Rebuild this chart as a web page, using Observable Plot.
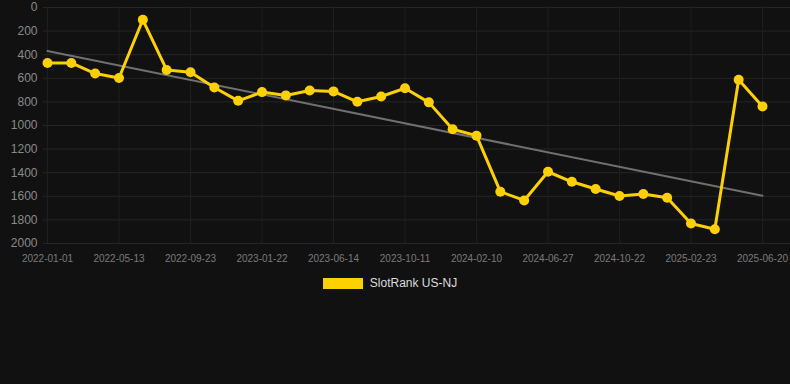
<!DOCTYPE html>
<html>
<head>
<meta charset="utf-8">
<script src="https://cdn.jsdelivr.net/npm/d3@7"></script>
<script src="https://cdn.jsdelivr.net/npm/@observablehq/plot@0.6"></script>
<style>
  html, body { margin: 0; padding: 0; background: #111111; }
  body { width: 790px; height: 384px; overflow: hidden; font-family: "Liberation Sans", Arial, sans-serif; }
  #legend { display: flex; align-items: center; justify-content: center; height: 28px; margin-top: -1px; padding-right: 10px; color: #dddddd; font-size: 12px; }
  #legend .sw { width: 40px; height: 11px; background: #FFD000; margin-right: 7px; }
</style>
</head>
<body>
<div id="chart"></div>
<div id="legend"><span class="sw"></span><span>SlotRank US-NJ</span></div>
<script>
const dates = [
  "2022-01-01","2022-02-14","2022-03-29","2022-05-13","2022-06-26","2022-08-09",
  "2022-09-23","2022-11-02","2022-12-12","2023-01-22","2023-03-06","2023-04-29",
  "2023-06-14","2023-07-23","2023-09-01","2023-10-11","2023-11-20","2023-12-31",
  "2024-02-10","2024-03-26","2024-05-12","2024-06-27","2024-08-04","2024-09-13",
  "2024-10-22","2024-12-02","2025-01-12","2025-02-23","2025-04-04","2025-05-12",
  "2025-06-20"
];
const rank = [
  470, 470, 560, 597, 104, 529, 549, 678, 791, 717, 745, 703, 711, 799, 754, 684,
  804, 1032, 1086, 1561, 1635, 1392, 1477, 1538, 1597, 1581, 1612, 1831, 1879, 613, 838
];
const trendEnds = [369, 1595];
const yTicks = [0, 200, 400, 600, 800, 1000, 1200, 1400, 1600, 1800, 2000];
const xTickLabels = ["2022-01-01","2022-05-13","2022-09-23","2023-01-22","2023-06-14","2023-10-11","2024-02-10","2024-06-27","2024-10-22","2025-02-23","2025-06-20"];

const data = dates.map((d, i) => ({i, date: d, v: rank[i]}));
const trend = [{i: 0, v: trendEnds[0]}, {i: dates.length - 1, v: trendEnds[1]}];
const xTickIdx = xTickLabels.map(l => dates.indexOf(l));

const chart = Plot.plot({
  width: 790,
  height: 270,
  marginLeft: 43,
  marginRight: 0,
  marginTop: 7,
  marginBottom: 27,
  style: {background: "#111111", fontFamily: "Liberation Sans, Arial, sans-serif"},
  x: {type: "linear", domain: [-0.168, 31.175], ticks: xTickIdx, tickFormat: i => dates[i], label: null},
  y: {domain: [2000, 0], range: [243, 7], ticks: yTicks, label: null},
  marks: [
    Plot.gridY(yTicks, {stroke: "#262626", strokeOpacity: 1}),
    Plot.gridX(xTickIdx, {stroke: "#1f1f1f", strokeOpacity: 1}),
    Plot.axisY(yTicks, {tickSize: 0, tickPadding: 6, fontSize: 12, fill: "#8a8a8a", tickFormat: d => String(d), label: null}),
    Plot.axisX(xTickIdx, {tickSize: 0, tickPadding: 11, fontSize: 10, fill: "#7a7a7a", tickFormat: i => dates[i], label: null}),
    Plot.line(trend, {x: "i", y: "v", stroke: "#707070", strokeWidth: 2}),
    Plot.line(data, {x: "i", y: "v", stroke: "#FFD000", strokeWidth: 3}),
    Plot.dot(data, {x: "i", y: "v", r: 5, fill: "#FFD000"})
  ]
});
document.getElementById("chart").appendChild(chart);
</script>
</body>
</html>
